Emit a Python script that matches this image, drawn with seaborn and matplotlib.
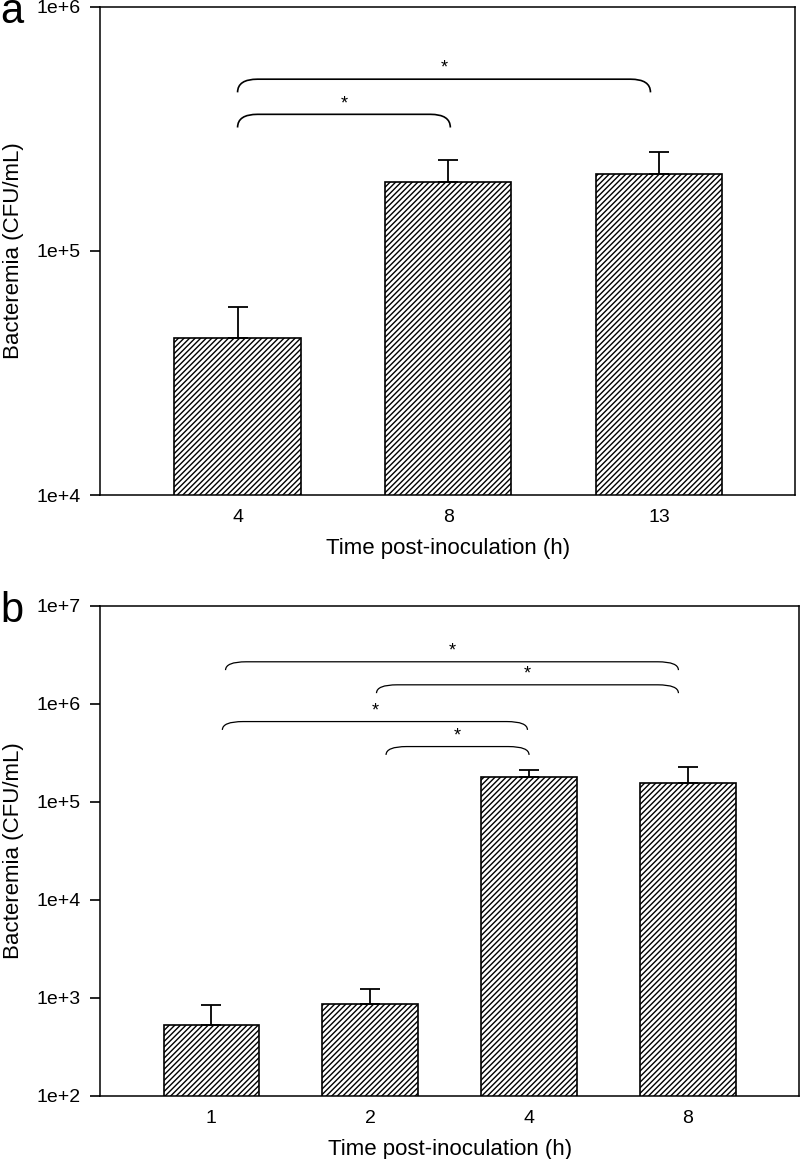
import numpy as np
import pandas as pd
import matplotlib
matplotlib.use("Agg")
import matplotlib.pyplot as plt
import seaborn as sns
from matplotlib.path import Path
from matplotlib.patches import PathPatch
from matplotlib.ticker import FuncFormatter, NullLocator, LogLocator

# ---------------------------
# data
# ---------------------------
times_a = ["4", "8", "13"]
mean_a = [4.4e4, 1.92e5, 2.07e5]
upper_a = [5.9e4, 2.36e5, 2.55e5]

times_b = ["1", "2", "4", "8"]
mean_b = [530, 865, 1.79e5, 1.57e5]
upper_b = [842, 1230, 2.12e5, 2.28e5]

# significance brackets: (x start, x end, height in axes fraction)
brackets_a = [(0.0, 1.01, 0.780), (0.0, 1.96, 0.852)]
brackets_b = [(0.09, 2.94, 0.886), (1.04, 2.94, 0.839),
              (0.07, 1.99, 0.764), (1.10, 2.00, 0.713)]

sns.set_style("white")
plt.rcParams["font.family"] = ["Liberation Sans", "DejaVu Sans"]
plt.rcParams["hatch.linewidth"] = 1.0
for key in ["text.color", "axes.labelcolor", "xtick.color", "ytick.color"]:
    plt.rcParams[key] = "black"

fig = plt.figure(figsize=(8, 11.59), dpi=100)
ax_a = fig.add_axes([0.125, 0.5729, 0.869, 0.4211])
ax_b = fig.add_axes([0.125, 0.0544, 0.874, 0.4228])


def draw_panel(ax, times, means, uppers, ylim, xlim, brackets, dx, dy, lw):
    df = pd.DataFrame({"time": times, "cfu": means})
    ax.set_yscale("log")
    sns.barplot(data=df, x="time", y="cfu", ax=ax, width=0.6, color="white",
                edgecolor="black", linewidth=1.2, hatch="//////", errorbar=None)
    err = np.array(uppers) - np.array(means)
    ax.errorbar(np.arange(len(times)), means, yerr=[np.zeros(len(err)), err],
                fmt="none", ecolor="black", elinewidth=1.3, capsize=7.5,
                capthick=1.3)
    ax.set_ylim(*ylim)
    ax.set_xlim(*xlim)
    ax.yaxis.set_major_locator(LogLocator(base=10, numticks=10))
    ax.yaxis.set_minor_locator(NullLocator())
    ax.yaxis.set_major_formatter(FuncFormatter(lambda v, p: f"1e+{int(round(np.log10(v)))}"))
    ax.tick_params(axis="y", direction="out", length=7, width=1.2, labelsize=14,
                   pad=7, left=True)
    ax.tick_params(axis="x", length=0, labelsize=14, pad=10)
    for s in ax.spines.values():
        s.set_color("black")
        s.set_linewidth(1.1)
    ax.set_xlabel("Time post-inoculation (h)", fontsize=16, labelpad=8.5)
    ax.set_ylabel("Bacteremia (CFU/mL)", fontsize=16)
    ax.yaxis.set_label_coords(-0.109, 0.5)

    trans = ax.get_xaxis_transform()
    for x0, x1, h in brackets:
        verts = [(x0, h - dy), (x0, h), (x0 + dx, h),
                 (x1 - dx, h), (x1, h), (x1, h - dy)]
        codes = [Path.MOVETO, Path.CURVE3, Path.CURVE3,
                 Path.LINETO, Path.CURVE3, Path.CURVE3]
        ax.add_patch(PathPatch(Path(verts, codes), fill=False, edgecolor="black",
                               lw=lw, transform=trans, clip_on=False))
        ax.text((x0 + x1) / 2, h + 0.022, "*", fontsize=13, ha="center",
                va="center", transform=trans)


draw_panel(ax_a, times_a, mean_a, upper_a, (1e4, 1e6), (-0.653, 2.647),
           brackets_a, 0.095, 0.027, 1.2)
draw_panel(ax_b, times_b, mean_b, upper_b, (1e2, 1e7), (-0.70, 3.70),
           brackets_b, 0.13, 0.017, 0.9)

fig.text(0.0, 1 - 23 / 1159, "a", fontsize=30, va="baseline", ha="left")
fig.text(0.0, 1 - 622 / 1159, "b", fontsize=30, va="baseline", ha="left")

fig.savefig("out.png", dpi=100)
